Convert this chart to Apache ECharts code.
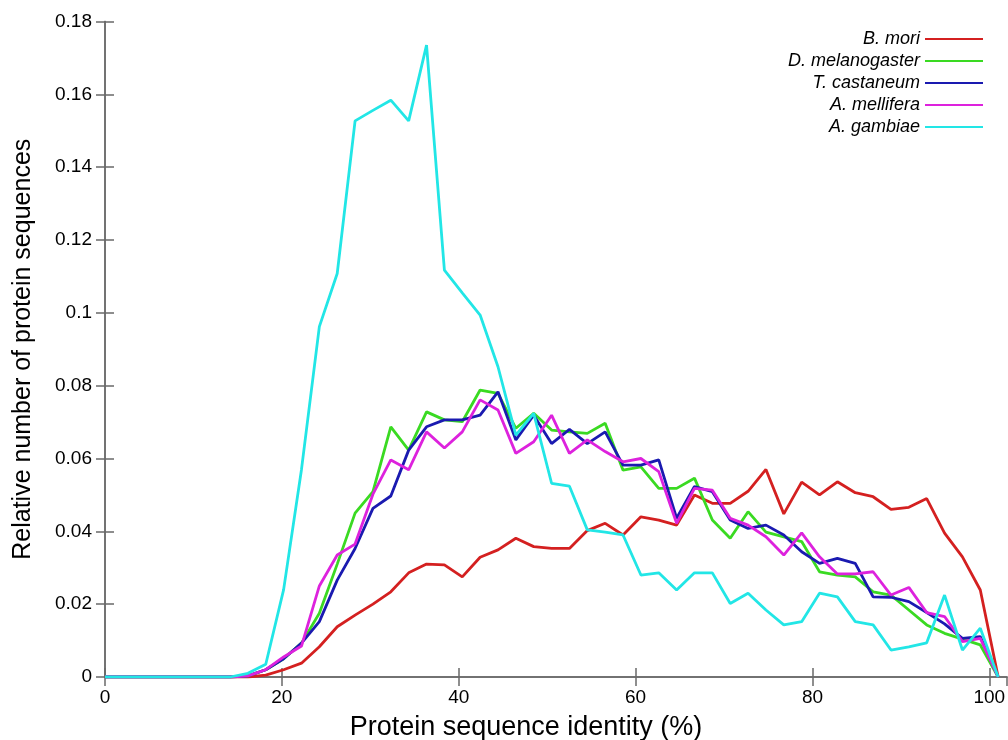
<!DOCTYPE html>
<html>
<head>
<meta charset="utf-8">
<script src="https://cdn.jsdelivr.net/npm/echarts@6/dist/echarts.min.js"></script>
<style>
html,body{margin:0;padding:0;background:#fff;}
#c{width:1008px;height:740px;}
</style>
</head>
<body>
<div id="c"></div>
<script>
// Protein sequence identity (%) bin positions
const identity = [0, 2.02, 4.04, 6.06, 8.08, 10.1, 12.12, 14.14, 16.16, 18.18, 20.2, 22.22, 24.24, 26.26, 28.28, 30.3, 32.32, 34.34, 36.36, 38.38, 40.4, 42.42, 44.44, 46.46, 48.48, 50.5, 52.52, 54.54, 56.56, 58.58, 60.6, 62.62, 64.64, 66.66, 68.68, 70.7, 72.72, 74.74, 76.76, 78.78, 80.8, 82.82, 84.84, 86.86, 88.88, 90.9, 92.92, 94.94, 96.96, 98.98, 101];

const seriesNames = ['B. mori', 'D. melanogaster', 'T. castaneum', 'A. mellifera', 'A. gambiae'];
const seriesColors = ['#d42020', '#3ada22', '#1a1ab0', '#dd22dd', '#22e6e6'];

const bMori = [0, 0, 0, 0, 0, 0, 0, 0, 0, 0.0005, 0.002, 0.0038, 0.0083, 0.0138, 0.017, 0.020, 0.0234, 0.0286, 0.031, 0.0308, 0.0275, 0.0329, 0.0349, 0.0381, 0.0358, 0.0353, 0.0353, 0.0402, 0.0422, 0.039, 0.044, 0.0431, 0.0417, 0.050, 0.0477, 0.0477, 0.051, 0.057, 0.0448, 0.0535, 0.050, 0.0536, 0.0506, 0.0495, 0.046, 0.0466, 0.049, 0.0395, 0.033, 0.0239, 0];
const dMelanogaster = [0, 0, 0, 0, 0, 0, 0, 0, 0.0003, 0.002, 0.005, 0.0093, 0.0175, 0.031, 0.045, 0.0509, 0.0687, 0.0623, 0.0728, 0.0706, 0.0701, 0.0788, 0.0779, 0.0683, 0.0724, 0.0678, 0.0673, 0.0669, 0.0697, 0.0568, 0.0577, 0.0518, 0.0518, 0.0546, 0.0431, 0.0381, 0.0454, 0.0398, 0.0385, 0.0372, 0.0289, 0.028, 0.0275, 0.0234, 0.0225, 0.0184, 0.0143, 0.012, 0.0104, 0.0088, 0];
const tCastaneum = [0, 0, 0, 0, 0, 0, 0, 0, 0.0003, 0.002, 0.005, 0.0093, 0.0152, 0.0266, 0.0353, 0.0463, 0.0497, 0.0623, 0.0687, 0.0706, 0.0706, 0.0719, 0.0783, 0.0651, 0.0719, 0.0641, 0.068, 0.0641, 0.0673, 0.0582, 0.0582, 0.0596, 0.0436, 0.0523, 0.0509, 0.0431, 0.0408, 0.0417, 0.039, 0.0344, 0.0312, 0.0326, 0.0312, 0.022, 0.0219, 0.0207, 0.0177, 0.0146, 0.0106, 0.0111, 0];
const aMellifera = [0, 0, 0, 0, 0, 0, 0, 0, 0.0003, 0.002, 0.0055, 0.0085, 0.0250, 0.0335, 0.0365, 0.0502, 0.0596, 0.0569, 0.0673, 0.0629, 0.0673, 0.0761, 0.0733, 0.0614, 0.0646, 0.0719, 0.0614, 0.0651, 0.0619, 0.0591, 0.060, 0.0564, 0.0422, 0.0518, 0.0513, 0.0436, 0.0417, 0.0385, 0.0335, 0.0396, 0.033, 0.0283, 0.0283, 0.0289, 0.0225, 0.0246, 0.0177, 0.0166, 0.0097, 0.0106, 0];
const aGambiae = [0, 0, 0, 0, 0, 0, 0, 0, 0.001, 0.0035, 0.024, 0.057, 0.0962, 0.1108, 0.1527, 0.1556, 0.1584, 0.1527, 0.1735, 0.1117, 0.1055, 0.0994, 0.0852, 0.0664, 0.0724, 0.0532, 0.0524, 0.0404, 0.0398, 0.039, 0.028, 0.0286, 0.0239, 0.0286, 0.0286, 0.0202, 0.023, 0.0184, 0.0143, 0.0152, 0.023, 0.022, 0.0152, 0.0143, 0.0074, 0.0083, 0.0094, 0.0225, 0.0074, 0.0134, 0];

const xTicks = [0, 20, 40, 60, 80, 100];
const yTicks = [0, 0.02, 0.04, 0.06, 0.08, 0.1, 0.12, 0.14, 0.16, 0.18];

const allValues = [bMori, dMelanogaster, tCastaneum, aMellifera, aGambiae];

const FONT = 'Liberation Sans, Arial, sans-serif';
const frameColor = '#6a6a6a';

function pairs(vals) { return identity.map((x, i) => [x, vals[i]]); }

const axisLineStyle = { show: true, lineStyle: { color: frameColor, width: 1.5 } };
const tickStyle = { show: true, inside: true, length: 9, lineStyle: { color: frameColor, width: 1.5 } };

const chart = echarts.init(document.getElementById('c'), null, { renderer: 'canvas' });
chart.setOption({
  animation: false,
  backgroundColor: '#ffffff',
  grid: { left: 105, right: 1, top: 21.5, bottom: 63, containLabel: false, outerBoundsMode: 'none' },
  legend: {
    orient: 'vertical',
    right: 20,
    top: 25,
    align: 'right',
    itemWidth: 58,
    itemHeight: 2,
    itemGap: 4,
    icon: 'rect',
    data: seriesNames,
    textStyle: { fontFamily: FONT, fontStyle: 'italic', fontSize: 18, color: '#000', lineHeight: 18 }
  },
  xAxis: [{
    type: 'value', min: 0, max: 102, interval: 20, position: 'bottom',
    axisLine: axisLineStyle, axisTick: tickStyle, splitLine: { show: false },
    axisLabel: {
      show: true, color: '#000', fontFamily: FONT, fontSize: 19, margin: 11, showMaxLabel: false,
      formatter: v => (xTicks.indexOf(v) >= 0 ? String(v) : '')
    },
    name: 'Protein sequence identity (%)', nameLocation: 'middle', nameGap: 37,
    nameTextStyle: { fontFamily: FONT, fontSize: 27, color: '#000', padding: [0, 60, 0, 0] }
  }, {
    type: 'value', min: 0, max: 102, interval: 20, position: 'top',
    axisLine: axisLineStyle, axisTick: tickStyle, splitLine: { show: false },
    axisLabel: { show: false }
  }],
  yAxis: [{
    type: 'value', min: 0, max: 0.18, interval: 0.02, position: 'left',
    axisLine: axisLineStyle, axisTick: tickStyle, splitLine: { show: false },
    axisLabel: {
      color: '#000', fontFamily: FONT, fontSize: 19, margin: 13,
      formatter: v => String(parseFloat(v.toFixed(2)))
    },
    name: 'Relative number of protein sequences', nameLocation: 'middle', nameGap: 69,
    nameTextStyle: { fontFamily: FONT, fontSize: 25, color: '#000' }
  }, {
    type: 'value', min: 0, max: 0.18, interval: 0.02, position: 'right',
    axisLine: axisLineStyle, axisTick: tickStyle, splitLine: { show: false },
    axisLabel: { show: false }
  }],
  series: seriesNames.map((name, i) => ({
    name: name,
    type: 'line',
    xAxisIndex: 0,
    yAxisIndex: 0,
    data: pairs(allValues[i]),
    symbol: 'none',
    showSymbol: false,
    smooth: false,
    clip: true,
    lineStyle: { color: seriesColors[i], width: 2.8 },
    itemStyle: { color: seriesColors[i] }
  }))
});
</script>
</body>
</html>
